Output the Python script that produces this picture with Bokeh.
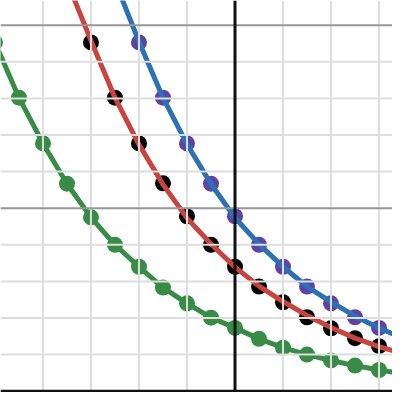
from bokeh.plotting import figure
from bokeh.models import Span
from bokeh.embed import file_html
from bokeh.resources import INLINE

# ---- data (x in grid units, y in grid units) ----
green_x = [-5, -4.5, -4, -3.5, -3, -2.5, -2, -1.5, -1, -0.5, 0, 0.5, 1, 1.5, 2, 2.5, 3, 3.5]
green_y = [9.53, 8.02, 6.77, 5.67, 4.75, 4.00, 3.40, 2.83, 2.40, 2.01, 1.73, 1.43, 1.19, 1.00, 0.84, 0.70, 0.58, 0.48]

black_x = [-3, -2.5, -2, -1.5, -1, -0.5, 0, 0.5, 1, 1.5, 2, 2.5, 3, 3.5]
black_y = [9.53, 8.02, 6.77, 5.68, 4.78, 4.00, 3.40, 2.86, 2.43, 2.02, 1.72, 1.45, 1.23, 1.00]

purple_x = [-2, -1.5, -1, -0.5, 0, 0.5, 1, 1.5, 2, 2.5, 3, 3.5]
purple_y = [9.53, 8.02, 6.77, 5.67, 4.78, 4.00, 3.40, 2.86, 2.40, 2.02, 1.73, 1.40]

red_x = [-3.5, -3, -2.5, -2, -1.5, -1, -0.5, 0, 0.5, 1, 1.5, 2, 2.5, 3, 3.5]
red_y = [11.2, 9.58, 8.02, 6.74, 5.65, 4.73, 4.02, 3.39, 2.87, 2.45, 2.07, 1.74, 1.45, 1.22, 1.03]

blue_x = [-2.5, -2, -1.5, -1, -0.5, 0, 0.5, 1, 1.5, 2, 2.5, 3, 3.5]
blue_y = [11.2, 9.55, 8.02, 6.75, 5.66, 4.74, 4.02, 3.40, 2.86, 2.44, 2.05, 1.73, 1.44]

x_minor = [-4, -3, -2, -1, 1, 2, 3]
y_minor = [1, 2, 3, 4, 6, 7, 8, 9]
y_major = [5, 10]

GREEN = "#388c46"
RED = "#c74440"
BLUE = "#2d70b3"
PURPLE = "#6042a6"
BLACK = "#000000"

p = figure(width=392, height=392, x_range=(-4.885, 3.281), y_range=(-0.0355, 10.675),
           x_axis_type=None, y_axis_type=None, toolbar_location=None,
           output_backend="svg", min_border=0)
p.outline_line_color = None
p.background_fill_color = "white"

for xv in x_minor:
    p.add_layout(Span(location=xv, dimension="height", line_color="#dedede", line_width=2))
for yv in y_minor:
    p.add_layout(Span(location=yv, dimension="width", line_color="#dedede", line_width=2))
for yv in y_major:
    p.add_layout(Span(location=yv, dimension="width", line_color="#979797", line_width=2))

p.add_layout(Span(location=0, dimension="height", line_color="#111111", line_width=3))
p.add_layout(Span(location=0, dimension="width", line_color="#111111", line_width=3))

# dots
p.scatter(black_x, black_y, size=16, color=BLACK, line_color=None)
p.scatter(purple_x, purple_y, size=16, color=PURPLE, line_color=None)

# curves
p.line(green_x, green_y, line_width=5, color=GREEN, line_join="round", line_cap="round")
p.scatter(green_x, green_y, size=16, color=GREEN, line_color=None)
p.line(red_x, red_y, line_width=5, color=RED, line_join="round", line_cap="round")
p.line(blue_x, blue_y, line_width=5, color=BLUE, line_join="round", line_cap="round")

open("out.html", "w").write(file_html(p, INLINE))
